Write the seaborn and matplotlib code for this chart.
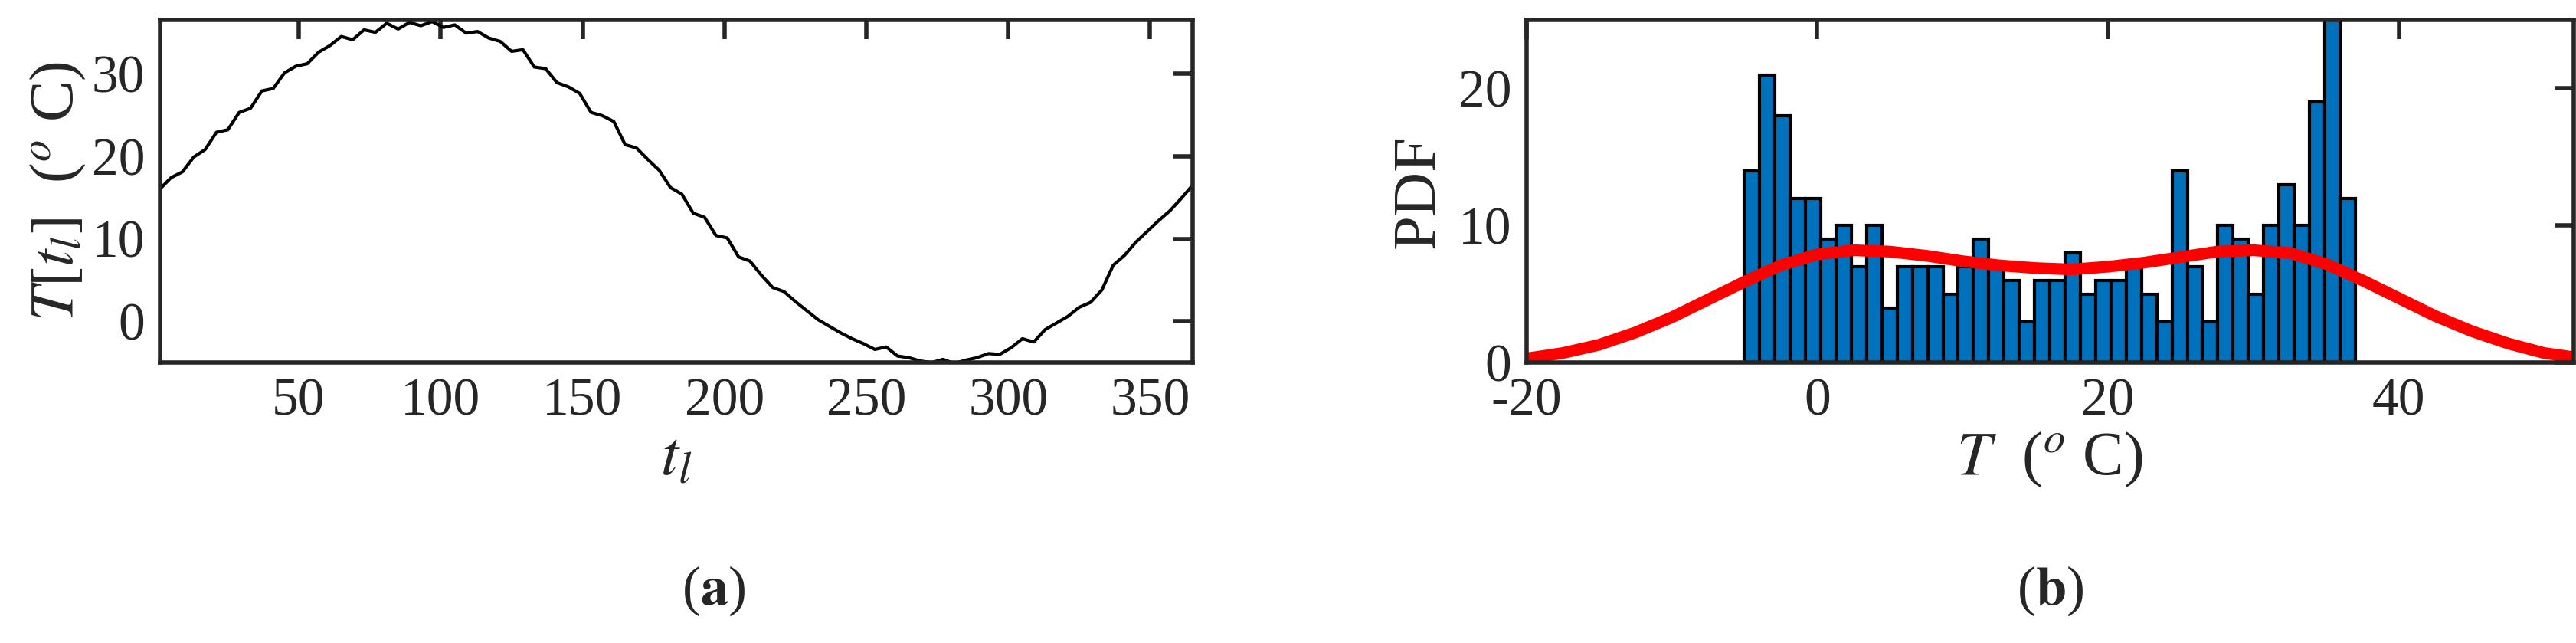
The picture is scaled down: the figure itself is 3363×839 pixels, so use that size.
import numpy as np
import matplotlib
matplotlib.use("Agg")
import matplotlib.pyplot as plt
import seaborn as sns
import pandas as pd

# daily temperature, read every 4 days off panel (a), day 1 .. day 365
days = list(range(1, 366, 4))
temps = [16.0, 17.4, 18.1, 19.9, 20.8, 22.9, 23.2, 25.3, 25.8, 27.9, 28.2, 30.1,
         30.9, 31.2, 32.6, 33.4, 34.5, 34.1, 35.3, 35.0, 36.1, 35.4, 36.2, 35.8,
         36.3, 35.6, 35.9, 34.9, 35.1, 34.3, 33.9, 32.7, 32.9, 30.8, 30.6, 28.9,
         28.4, 27.6, 25.3, 24.9, 24.2, 21.4, 21.0, 19.6, 18.3, 16.2, 15.4, 13.1,
         12.6, 10.4, 10.1, 7.8, 7.3, 5.6, 4.1, 3.6, 2.4, 1.3, 0.2, -0.6,
         -1.4, -2.1, -2.7, -3.4, -3.1, -4.2, -4.4, -4.8, -5.0, -4.6, -5.1, -4.7,
         -4.4, -3.9, -4.0, -3.2, -2.1, -2.5, -1.0, -0.2, 0.6, 1.7, 2.3, 3.8,
         6.8, 8.0, 9.6, 10.9, 12.2, 13.4, 14.9, 16.5]

# histogram of panel (b)
bin_lo, bin_hi = -5.0, 37.0
counts = [14, 21, 18, 12, 12, 9, 10, 7, 10, 4, 7, 7, 7, 5, 7, 9, 7, 6, 3, 6,
          6, 8, 5, 6, 6, 7, 5, 3, 14, 7, 3, 10, 9, 5, 10, 13, 10, 19, 27, 12]

# red smooth pdf curve (scaled)
pdf_x = [-20, -17.5, -15, -12.5, -10, -7.5, -5, -2.5, 0, 2.5, 5, 7.5, 10, 12.5, 15,
         17.5, 20, 22.5, 25, 27.5, 30, 32.5, 35, 37.5, 40, 42.5, 45, 47.5, 50, 52]
pdf_y = [0.3, 0.7, 1.3, 2.2, 3.3, 4.6, 5.9, 7.1, 7.9, 8.2, 8.1, 7.8, 7.4, 7.1, 6.9,
         6.8, 7.0, 7.3, 7.7, 8.1, 8.2, 8.0, 7.2, 6.0, 4.7, 3.4, 2.3, 1.4, 0.7, 0.4]

sns.set_style("white")
plt.rcParams['font.family'] = ['Liberation Serif', 'DejaVu Serif']
plt.rcParams['mathtext.fontset'] = 'stix'
plt.rcParams['axes.linewidth'] = 4
plt.rcParams['axes.unicode_minus'] = False

fig = plt.figure(figsize=(33.63, 8.39), dpi=100)
ax1 = fig.add_axes([0.062, 0.436, 0.401, 0.533])
ax2 = fig.add_axes([0.5925, 0.436, 0.4065, 0.533])

df = pd.DataFrame({"t": days, "T": temps})
sns.lineplot(data=df, x="t", y="T", ax=ax1, color="black", linewidth=3)
ax1.set_xlim(1, 365)
ax1.set_ylim(-5, 36.5)
ax1.set_xticks([50, 100, 150, 200, 250, 300, 350])
ax1.set_yticks([0, 10, 20, 30])
ax1.set_xlabel("$t_l$", fontsize=60, labelpad=4)
ax1.set_ylabel("$T[t_l]$  ($^o$ C)", fontsize=58, labelpad=4)

edges = np.linspace(bin_lo, bin_hi, len(counts) + 1)
hdf = pd.DataFrame({"c": (edges[:-1] + edges[1:]) / 2, "w": counts})
sns.histplot(data=hdf, x="c", weights="w", bins=len(counts),
             binrange=(bin_lo, bin_hi), ax=ax2, color="#0072BD",
             alpha=1, edgecolor="black", linewidth=3)
sns.lineplot(x=pdf_x, y=pdf_y, ax=ax2, color="red", linewidth=11)
ax2.set_xlim(-20, 52)
ax2.set_ylim(0, 25)
ax2.set_xticks([-20, 0, 20, 40])
ax2.set_yticks([0, 10, 20])
ax2.set_xlabel("$T$  ($^o$ C)", fontsize=58, labelpad=4)
ax2.set_ylabel("PDF", fontsize=58, labelpad=10)

for ax in (ax1, ax2):
    ax.tick_params(direction="in", length=18, width=4, labelsize=50,
                   top=True, right=True, color="#262626", pad=14)
    for s in ax.spines.values():
        s.set_color("#262626")

fig.text(0.277, 0.06, r"(" + r"$\mathbf{a}$" + ")", fontsize=52, ha="center")
fig.text(0.796, 0.06, r"(" + r"$\mathbf{b}$" + ")", fontsize=52, ha="center")

fig.savefig("out.png", dpi=100)
